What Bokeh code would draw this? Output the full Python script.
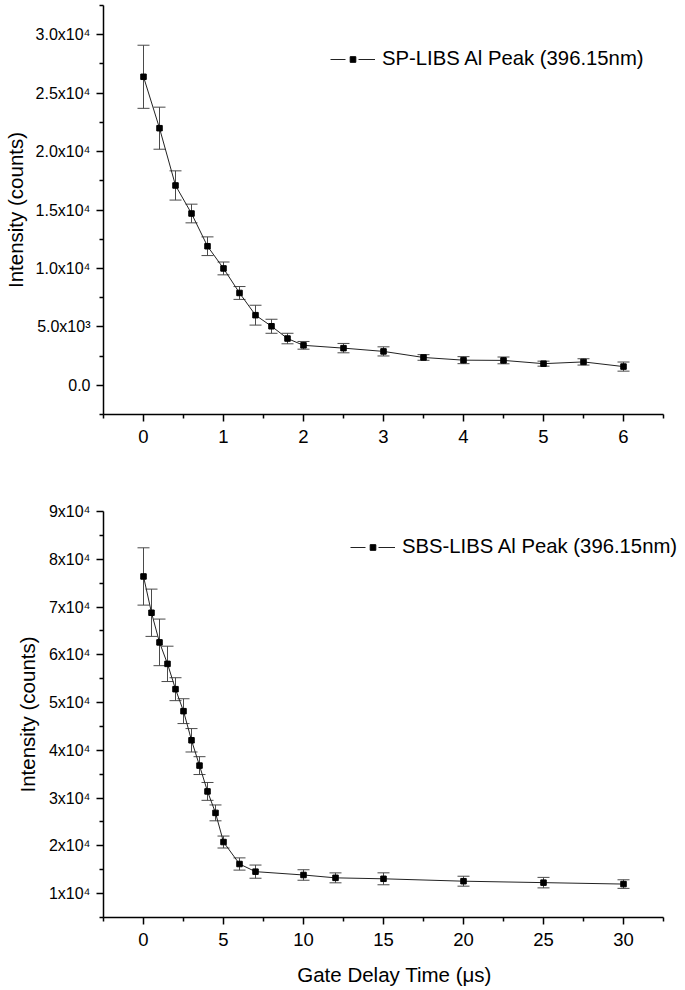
import math
from bokeh.plotting import figure
from bokeh.models import (ColumnDataSource, Whisker, TeeHead, FixedTicker, Legend,
                          LegendItem, Range1d)
from bokeh.layouts import column
from bokeh.embed import file_html
from bokeh.resources import INLINE

# ---------------- data ----------------
sp_delay = [0, 0.2, 0.4, 0.6, 0.8, 1.0, 1.2, 1.4, 1.6, 1.8, 2.0, 2.5, 3.0, 3.5, 4.0, 4.5, 5.0, 5.5, 6.0]
sp_intensity = [26400, 22000, 17100, 14700, 11900, 10000, 7900, 6000, 5050, 4000, 3420, 3180, 2900,
                2380, 2150, 2130, 1850, 2000, 1600]
sp_error = [2700, 1800, 1250, 800, 800, 550, 550, 850, 600, 450, 330, 400, 390, 240, 300, 290, 215, 270, 390]

sbs_delay = [0, 0.5, 1, 1.5, 2, 2.5, 3, 3.5, 4, 4.5, 5, 6, 7, 10, 12, 15, 20, 25, 30]
sbs_intensity = [76400, 68800, 62600, 58100, 52800, 48200, 42100, 36800, 31400, 26900, 20800, 16200,
                 14600, 13900, 13300, 13100, 12600, 12300, 12000]
sbs_error = [6000, 4950, 4880, 3700, 2400, 2600, 2450, 1870, 1870, 1660, 1250, 1280, 1380, 1100, 1040,
             1250, 1040, 1100, 900]

sp_label = "SP-LIBS Al Peak (396.15nm)"
sbs_label = "SBS-LIBS Al Peak (396.15nm)"
y_title = "Intensity (counts)"
x_title = "Gate Delay Time (\u03bcs)"

sp_xbounds = (-0.5, 6.5)
sp_ybounds = (-2500, 32500)
sp_xticks = [0, 1, 2, 3, 4, 5, 6]
sp_xminor = [-0.5, 0.5, 1.5, 2.5, 3.5, 4.5, 5.5, 6.5]
sp_yticks = [0, 5000, 10000, 15000, 20000, 25000, 30000]
sp_yminor = [-2500, 2500, 7500, 12500, 17500, 22500, 27500, 32500]
sp_ylabels = ["0.0", "5.0x10\u00b3", "1.0x10\u2074", "1.5x10\u2074", "2.0x10\u2074", "2.5x10\u2074", "3.0x10\u2074"]

sbs_xbounds = (-2.5, 32.5)
sbs_ybounds = (5000, 90000)
sbs_xticks = [0, 5, 10, 15, 20, 25, 30]
sbs_xminor = [-2.5, 2.5, 7.5, 12.5, 17.5, 22.5, 27.5, 32.5]
sbs_yticks = [10000, 20000, 30000, 40000, 50000, 60000, 70000, 80000, 90000]
sbs_yminor = [5000, 15000, 25000, 35000, 45000, 55000, 65000, 75000, 85000]
sbs_ylabels = ["1x10\u2074", "2x10\u2074", "3x10\u2074", "4x10\u2074", "5x10\u2074", "6x10\u2074",
               "7x10\u2074", "8x10\u2074", "9x10\u2074"]

FONT = "Liberation Sans"
ERR_COLOR = "#4a4a4a"
FIG_W = 685
LEFT = 103
AXIS_PX = 560  # pixel length of the drawn x axis


def make_panel(xs, ys, errs, xb, yb, xt, xmt, yt, ymt, ylabels, xlabel, legend_text,
               height, border_top, border_bottom, legend_loc, ytitle_standoff):
    frame_w = FIG_W - LEFT
    x_end = xb[0] + (xb[1] - xb[0]) * frame_w / AXIS_PX
    p = figure(width=FIG_W, height=height, x_range=Range1d(xb[0], x_end), y_range=Range1d(*yb),
               output_backend="svg", toolbar_location=None,
               min_border_left=LEFT, min_border_right=0,
               min_border_top=border_top, min_border_bottom=border_bottom)
    p.xgrid.visible = False
    p.ygrid.visible = False
    p.outline_line_color = None
    p.background_fill_color = "white"
    p.border_fill_color = "white"

    src = ColumnDataSource(dict(
        x=xs, y=ys,
        upper=[v + e for v, e in zip(ys, errs)],
        lower=[v - e for v, e in zip(ys, errs)],
    ))

    w = Whisker(base="x", upper="upper", lower="lower", source=src,
                line_color=ERR_COLOR, line_width=1,
                upper_head=TeeHead(size=12, line_color=ERR_COLOR, line_width=1),
                lower_head=TeeHead(size=12, line_color=ERR_COLOR, line_width=1))
    p.add_layout(w)

    p.line("x", "y", source=src, line_color="#222222", line_width=1)
    mark_r = p.scatter("x", "y", source=src, marker="square", size=5.5,
                       fill_color="black", line_color="black")
    # legend-only line with a gap around the marker (kept far outside the visible frame)
    leg_line = p.line(x=[xb[0] - 1e6, xb[0] - 1e6 + 1], y=[yb[0] - 1e9, yb[0] - 1e9],
                      line_color="#222222", line_width=1, line_dash="15 13 17")

    for ax in (p.xaxis[0], p.yaxis[0]):
        ax.axis_line_color = "black"
        ax.axis_line_width = 1.5
        ax.major_tick_line_color = "black"
        ax.major_tick_line_width = 1.5
        ax.minor_tick_line_color = "black"
        ax.minor_tick_line_width = 1.5
        ax.major_tick_in = 0
        ax.major_tick_out = 7
        ax.minor_tick_in = 0
        ax.minor_tick_out = 4
        ax.major_label_text_font = FONT
        ax.major_label_text_color = "black"
        ax.axis_label_text_font = FONT
        ax.axis_label_text_font_style = "normal"
        ax.axis_label_text_color = "black"
        ax.axis_label_text_font_size = "20.5px"

    p.xaxis.bounds = xb
    p.xaxis.ticker = FixedTicker(ticks=xt, minor_ticks=xmt)
    p.yaxis.ticker = FixedTicker(ticks=yt, minor_ticks=ymt)
    p.yaxis.major_label_overrides = {int(t): lab for t, lab in zip(yt, ylabels)}
    p.yaxis.major_label_text_font_size = "16px"
    p.yaxis.major_label_standoff = 6
    p.xaxis.major_label_text_font_size = "18.5px"
    p.xaxis.major_label_standoff = 8
    p.yaxis.axis_label = y_title
    p.yaxis.axis_label_standoff = ytitle_standoff
    if xlabel:
        p.xaxis.axis_label = xlabel
        p.xaxis.axis_label_standoff = 14

    legend = Legend(items=[LegendItem(label=legend_text, renderers=[leg_line, mark_r])],
                    location=legend_loc, glyph_width=45, glyph_height=14, label_height=14,
                    label_standoff=7, padding=0, margin=0, spacing=0,
                    border_line_color=None, background_fill_alpha=0,
                    label_text_font=FONT, label_text_font_size="20.3px",
                    label_text_color="black")
    p.add_layout(legend)
    return p


p1 = make_panel(sp_delay, sp_intensity, sp_error, sp_xbounds, sp_ybounds,
                sp_xticks, sp_xminor, sp_yticks, sp_yminor, sp_ylabels, None, sp_label,
                460, 5, 46, (227, 344), 6)
p2 = make_panel(sbs_delay, sbs_intensity, sbs_error, sbs_xbounds, sbs_ybounds,
                sbs_xticks, sbs_xminor, sbs_yticks, sbs_yminor, sbs_ylabels, x_title, sbs_label,
                528, 51, 69, (247, 359), 7)

layout = column(p1, p2, spacing=0)
open("out.html", "w").write(file_html(layout, INLINE))
